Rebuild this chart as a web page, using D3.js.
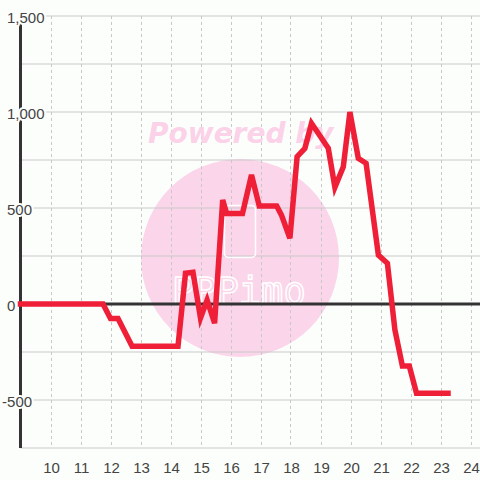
<!DOCTYPE html>
<html>
<head>
<meta charset="utf-8">
<script src="https://cdn.jsdelivr.net/npm/d3@7"></script>
<style>
  html, body { margin: 0; padding: 0; background: #fcfefc; }
  svg { display: block; }
  .tick text { font-family: "Liberation Sans", Arial, sans-serif; font-size: 15px; fill: #444; }
</style>
</head>
<body>
<svg id="chart" width="480" height="480"></svg>
<script>
// hour of day (decimal) and value
const hours = [9, 11.75, 12, 12.25, 12.72, 14.25, 14.5, 14.75, 15, 15.22, 15.47, 15.74, 15.87, 16.4, 16.7,
  16.96, 17.54, 17.7, 17.98, 18.22, 18.48, 18.7, 19.26, 19.48, 19.76, 19.98, 20.26, 20.52, 20.93,
  21.23, 21.48, 21.73, 21.96, 22.2, 23.25];
const values = [0, 0, -75, -75, -220, -220, 160, 165, -73, 20, -100, 542, 472, 472, 672,
  510, 510, 463, 342, 767, 811, 941, 811, 608, 715, 1000, 759, 733, 255,
  212, -135, -323, -323, -465, -465];
const xTicks = [10, 11, 12, 13, 14, 15, 16, 17, 18, 19, 20, 21, 22, 23, 24];
const yTicks = [-500, 0, 500, 1000, 1500];
const yGrid = [-750, -500, -250, 0, 250, 500, 750, 1000, 1250, 1500];

const bg = '#fcfefc';
const svg = d3.select('#chart');
const width = 480;
const margin = { top: 16, left: 20.5, bottom: 32 };
const plotBottom = 480 - margin.bottom;

const x = d3.scaleLinear().domain([9, 9 + (width - margin.left) / 30]).range([margin.left, width]);
const y = d3.scaleLinear().domain([-750, 1500]).range([plotBottom, margin.top]);

// watermark circle
svg.append('circle')
  .attr('cx', 240).attr('cy', 258).attr('r', 99)
  .attr('fill', '#fbd6eb');

// grid
svg.append('g')
  .selectAll('line')
  .data(yGrid)
  .join('line')
  .attr('x1', margin.left).attr('x2', width)
  .attr('y1', d => y(d)).attr('y2', d => y(d))
  .attr('stroke', '#c8c8c8').attr('stroke-width', 1);

svg.append('g')
  .selectAll('line')
  .data(xTicks)
  .join('line')
  .attr('x1', d => Math.round(x(d)) + 0.5).attr('x2', d => Math.round(x(d)) + 0.5)
  .attr('y1', margin.top).attr('y2', plotBottom)
  .attr('stroke', '#c8c8c8').attr('stroke-width', 1)
  .attr('stroke-dasharray', '3,3');

// watermark text + logo
svg.append('text')
  .attr('x', 148).attr('y', 143)
  .attr('font-family', 'DejaVu Sans')
  .attr('font-weight', 'bold').attr('font-style', 'italic')
  .attr('font-size', 28)
  .attr('fill', '#fbd2e8')
  .text('Powered by');
svg.append('rect')
  .attr('x', 224.5).attr('y', 205.5).attr('width', 31).attr('height', 52).attr('rx', 4)
  .attr('fill', 'none').attr('stroke', '#fff').attr('stroke-width', 1.5);
svg.append('text')
  .attr('x', 172).attr('y', 304)
  .attr('font-family', 'DejaVu Sans Mono')
  .attr('font-size', 37)
  .attr('fill', 'none').attr('stroke', '#fff').attr('stroke-width', 1.5)
  .text('PPPimo');

// zero line
svg.append('line')
  .attr('x1', margin.left).attr('x2', width)
  .attr('y1', y(0)).attr('y2', y(0))
  .attr('stroke', '#333').attr('stroke-width', 3);

// y axis line
svg.append('line')
  .attr('x1', margin.left).attr('x2', margin.left)
  .attr('y1', margin.top).attr('y2', plotBottom)
  .attr('stroke', '#333').attr('stroke-width', 3);

// series line
const line = d3.line()
  .x((d, i) => x(hours[i]))
  .y(d => y(d));
svg.append('path')
  .datum(values)
  .attr('fill', 'none')
  .attr('stroke', '#ee1f37')
  .attr('stroke-width', 5.5)
  .attr('stroke-linejoin', 'miter')
  .attr('stroke-linecap', 'square')
  .attr('d', line);

// x axis labels
const xAxis = svg.append('g')
  .attr('transform', `translate(0.5, ${plotBottom})`)
  .call(d3.axisBottom(x).tickValues(xTicks).tickSize(0).tickPadding(14).tickFormat(d3.format('d')));
xAxis.select('.domain').remove();

// y axis labels, drawn over the axis with a halo
const fmt = d => d3.format(',')(d).replace('\u2212', '-');
const yAxis = svg.append('g')
  .call(d3.axisLeft(y).tickValues(yTicks).tickSize(0).tickFormat(fmt));
yAxis.select('.domain').remove();
yAxis.selectAll('.tick text')
  .attr('text-anchor', 'start')
  .attr('x', 7)
  .attr('dx', d => (d < 0 ? '-0.33em' : 0))
  .attr('dy', '0.42em')
  .attr('stroke', bg)
  .attr('stroke-width', 4)
  .attr('stroke-linejoin', 'round')
  .attr('paint-order', 'stroke');
</script>
</body>
</html>
